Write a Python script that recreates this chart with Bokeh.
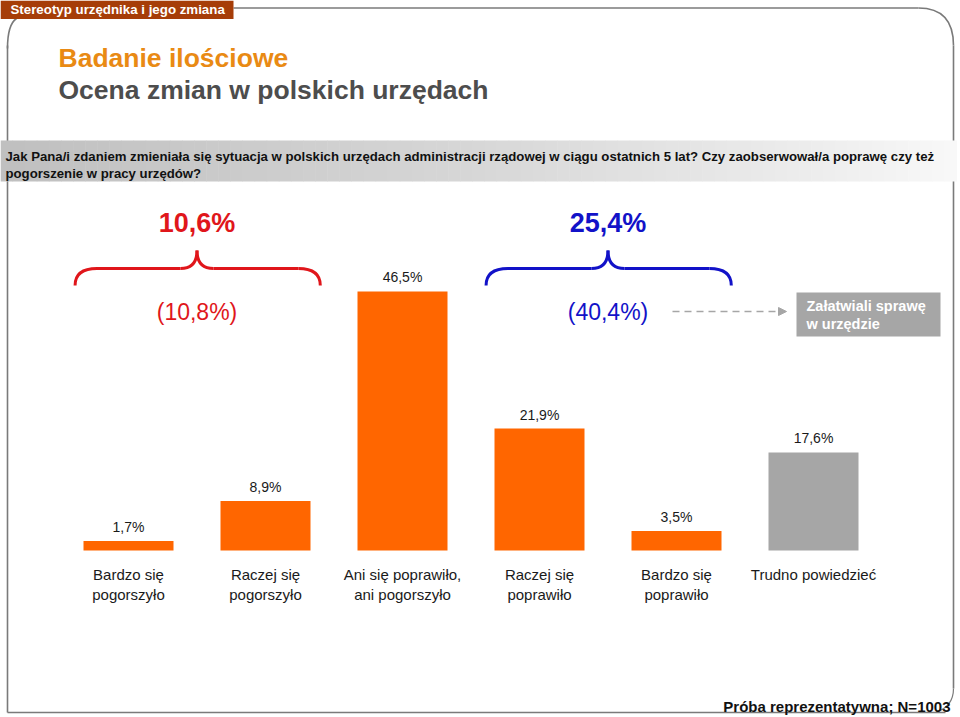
import numpy as np
from bokeh.plotting import figure
from bokeh.models import Range1d, Arrow, NormalHead
from bokeh.core.properties import value
from bokeh.embed import file_html
from bokeh.resources import INLINE

# ---------------- data ----------------
categories = ["Bardzo się\npogorszyło", "Raczej się\npogorszyło",
              "Ani się poprawiło,\nani pogorszyło", "Raczej się\npoprawiło",
              "Bardzo się\npoprawiło", "Trudno powiedzieć"]
values = [1.7, 8.9, 46.5, 21.9, 3.5, 17.6]
value_labels = ["1,7%", "8,9%", "46,5%", "21,9%", "3,5%", "17,6%"]
bar_colors = ["#FF6600", "#FF6600", "#FF6600", "#FF6600", "#FF6600", "#A6A6A6"]
group_indices = [[0, 1], [3, 4]]
group_totals = ["10,6%", "25,4%"]
group_previous = ["(10,8%)", "(40,4%)"]
group_colors = ["#E0161B", "#1212C8"]

tab_title = "Stereotyp urzędnika i jego zmiana"
title1 = "Badanie ilościowe"
title2 = "Ocena zmian w polskich urzędach"
question1 = "Jak Pana/i zdaniem zmieniała się sytuacja w polskich urzędach administracji rządowej w ciągu ostatnich 5 lat? Czy zaobserwował/a poprawę czy też"
question2 = "pogorszenie w pracy urzędów?"
side_note = "Załatwiali sprawę\nw urzędzie"
footer = "Próba reprezentatywna; N=1003"

FONT = value("Liberation Sans")
W, H = 960, 717

p = figure(width=W, height=H, output_backend="svg", toolbar_location=None,
           x_range=Range1d(0, W), y_range=Range1d(H, 0),
           x_axis_type=None, y_axis_type=None, min_border=0,
           outline_line_color=None, background_fill_color="white")
p.grid.visible = False

# category / percentage scales (bars baseline at px 550, 5.57 px per %)
k = 5.57
p.extra_y_ranges = {"pct": Range1d(-(H - 550) / k, 550 / k)}
p.extra_x_ranges = {"cat": Range1d(-128 / 137.0, -128 / 137.0 + W / 137.0)}

# ---------------- frame ----------------
fc = "#7A7A7A"
p.line([233, 918], [7.5, 7.5], line_color=fc, line_width=1.6)
p.quadratic(x0=[918], y0=[7.5], x1=[953], y1=[45], cx=[953], cy=[7.5], line_color=fc, line_width=1.6)
p.line([953, 953], [45, 688], line_color=fc, line_width=1.6)
p.quadratic(x0=[953], y0=[688], x1=[935], y1=[712], cx=[953], cy=[706], line_color=fc, line_width=1.2)
p.line([7, 945], [712, 712], line_color=fc, line_width=1.6)
p.line([7, 7], [45, 712], line_color=fc, line_width=1.6)
p.quadratic(x0=[16], y0=[18], x1=[7], y1=[48], cx=[7], cy=[24], line_color=fc, line_width=1.6)

# tab
p.quad(left=[0], right=[233], top=[0], bottom=[18.5], fill_color="#A63D08", line_color=None)
p.text(x=[10], y=[8.5], text=[tab_title], text_font=FONT, text_font_style="bold",
       text_font_size="13.3px", text_color="white", text_baseline="middle", text_align="left")

# titles
p.text(x=[58], y=[57], text=[title1], text_font=FONT, text_font_style="bold",
       text_font_size="26.5px", text_color="#E98A14", text_baseline="middle")
p.text(x=[58], y=[89], text=[title2], text_font=FONT, text_font_style="bold",
       text_font_size="26.5px", text_color="#4D4D4D", text_baseline="middle")

# question band (gradient)
xs = np.linspace(0, 956, 80)
g = np.interp(xs, [0, 480, 800, 956], [192, 216, 237, 250]).astype(int)
cols = ["#%02x%02x%02x" % (v, v, v) for v in g]
p.quad(left=xs[:-1], right=xs[1:] + 0.5, top=140, bottom=181, fill_color=cols[:-1], line_color=None)
p.text(x=[5], y=[155.5], text=[question1], text_font=FONT, text_font_style="bold",
       text_font_size="13.2px", text_color="#111111", text_baseline="middle")
p.text(x=[5], y=[173], text=[question2], text_font=FONT, text_font_style="bold",
       text_font_size="13.2px", text_color="#111111", text_baseline="middle")

# ---------------- bars ----------------
idx = list(range(len(values)))
p.vbar(x=idx, top=values, bottom=0, width=90 / 137.0, fill_color=bar_colors, line_color=None,
       x_range_name="cat", y_range_name="pct")
p.text(x=idx, y=values, text=value_labels, text_font=FONT, text_font_size="14px",
       text_color="#1A1A1A", text_align="center", text_baseline="bottom", y_offset=-6,
       x_range_name="cat", y_range_name="pct")
p.text(x=idx, y=[0] * len(idx), text=categories, text_font=FONT, text_font_size="15px",
       text_color="#1A1A1A", text_align="center", text_baseline="top", y_offset=15,
       text_line_height=1.2, x_range_name="cat", y_range_name="pct")

# ---------------- braces ----------------
pl, pr = 0.39, 0.40
cw, tw = 0.16, 0.12
y_end, y_mid, y_tip = 285, 268, 250
for gi, col, tot, prev in zip(group_indices, group_colors, group_totals, group_previous):
    c = sum(gi) / len(gi)
    L = min(gi) - pl
    R = max(gi) + pr
    kw = dict(line_color=col, line_width=3, x_range_name="cat")
    p.quadratic(x0=[L, c - tw, c, R - cw], y0=[y_end, y_mid, y_tip, y_mid],
                x1=[L + cw, c, c + tw, R], y1=[y_mid, y_tip, y_mid, y_end],
                cx=[L, c, c, R], cy=[y_mid, y_mid, y_mid, y_mid], **kw)
    p.line([L + cw, c - tw], [y_mid, y_mid], **kw)
    p.line([c + tw, R - cw], [y_mid, y_mid], **kw)
    p.text(x=[c], y=[222], text=[tot], text_font=FONT, text_font_style="bold",
           text_font_size="27px", text_color=col, text_align="center", text_baseline="middle",
           x_range_name="cat")
    p.text(x=[c], y=[311], text=[prev], text_font=FONT, text_font_size="23px",
           text_color=col, text_align="center", text_baseline="middle", x_range_name="cat")

# arrow + side note box
p.add_layout(Arrow(x_start=672, y_start=311, x_end=786, y_end=311, line_color="#A6A6A6",
                   line_width=1.6, line_dash="7 5",
                   end=NormalHead(size=8, fill_color="#A6A6A6", line_color="#A6A6A6")))
p.quad(left=[796], right=[940], top=[292], bottom=[336], fill_color="#A6A6A6", line_color=None)
p.text(x=[806], y=[297], text=[side_note], text_font=FONT, text_font_style="bold",
       text_font_size="14.5px", text_color="white", text_align="left", text_baseline="top",
       text_line_height=1.15)

# footer
p.text(x=[950], y=[706], text=[footer], text_font=FONT, text_font_style="bold",
       text_font_size="15px", text_color="#111111", text_align="right", text_baseline="middle")

open("out.html", "w").write(file_html(p, INLINE))
